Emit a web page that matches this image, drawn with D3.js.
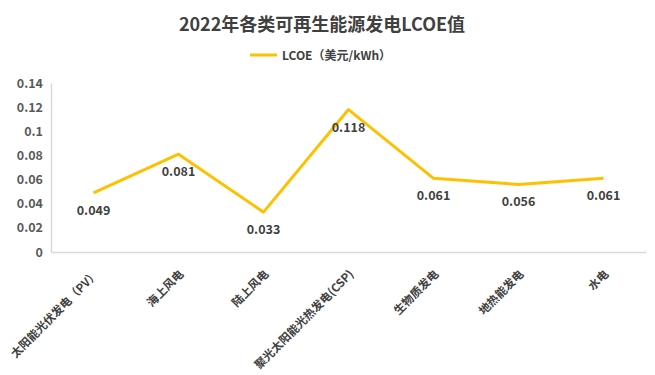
<!DOCTYPE html>
<html><head><meta charset="utf-8">
<script src="https://cdn.jsdelivr.net/npm/d3@7"></script>
<style>body{margin:0;background:#fff;}svg{display:block;font-family:"Noto Sans CJK SC","Noto Sans",sans-serif;}</style>
</head><body>
<svg id="c" width="655" height="375"></svg>
<script>
const categories = ["太阳能光伏发电（PV）","海上风电","陆上风电","聚光太阳能光热发电(CSP)","生物质发电","地热能发电","水电"];
const values = [0.049,0.081,0.033,0.118,0.061,0.056,0.061];
const yTicks = [0,0.02,0.04,0.06,0.08,0.1,0.12,0.14];
const seriesName = "LCOE（美元/kWh）";
const title = "2022年各类可再生能源发电LCOE值";

(function(){
const svg = d3.select("#c");
const mLeft = 51, mRight = 646, mTop = 83, mBottom = 252;
const x = d3.scaleBand().domain(categories).range([mLeft, mRight]);
const y = d3.scaleLinear().domain([0, 0.14]).range([mBottom, mTop]);
const color = "#FFC000";

svg.append("text").attr("x", 322).attr("y", 31).attr("text-anchor","middle")
  .attr("font-size", 18).attr("font-weight","bold").attr("fill","#404040").text(title);

svg.append("line").attr("x1",250).attr("x2",277).attr("y1",55).attr("y2",55)
  .attr("stroke",color).attr("stroke-width",3);
svg.append("text").attr("x",282).attr("y",59.5).attr("font-size",12).attr("font-weight","bold")
  .attr("fill","#404040").text(seriesName);

const ya = svg.append("g").attr("transform",`translate(${mLeft},0)`)
  .call(d3.axisLeft(y).tickValues(yTicks).tickSize(0).tickPadding(8).tickFormat(d=>String(d)));
ya.select(".domain").attr("stroke","#d9d9d9").attr("stroke-width",1.5);
ya.selectAll("text").attr("font-size",12.5).attr("font-weight","bold").attr("fill","#595959")
  .attr("font-family","'Noto Sans CJK SC',sans-serif");

const xa = svg.append("g").attr("transform",`translate(0,${mBottom})`)
  .call(d3.axisBottom(x).tickSize(0).tickFormat(""));
xa.select(".domain").attr("stroke","#d9d9d9").attr("stroke-width",1.5);
xa.selectAll(".tick").each(function(d){
  d3.select(this).append("text")
    .attr("transform","translate(3,20) rotate(-45)")
    .attr("text-anchor","end").attr("dy","0.35em")
    .attr("font-size",11.5).attr("font-weight","bold").attr("fill","#404040")
    .attr("font-family","'Noto Sans CJK SC',sans-serif").text(d);
});

const cx = d => x(d) + x.bandwidth()/2;
const line = d3.line().x((d,i)=>cx(categories[i])).y(d=>y(d));
svg.append("path").datum(values).attr("d",line).attr("fill","none")
  .attr("stroke",color).attr("stroke-width",3).attr("stroke-linejoin","round");

svg.selectAll(".lbl").data(values).join("text").attr("class","lbl")
  .attr("x",(d,i)=>cx(categories[i])).attr("y",d=>y(d)+22)
  .attr("text-anchor","middle").attr("font-size",12.5).attr("font-weight","bold")
  .attr("fill","#404040").text(d=>d.toFixed(3));
})();
</script>
</body></html>
